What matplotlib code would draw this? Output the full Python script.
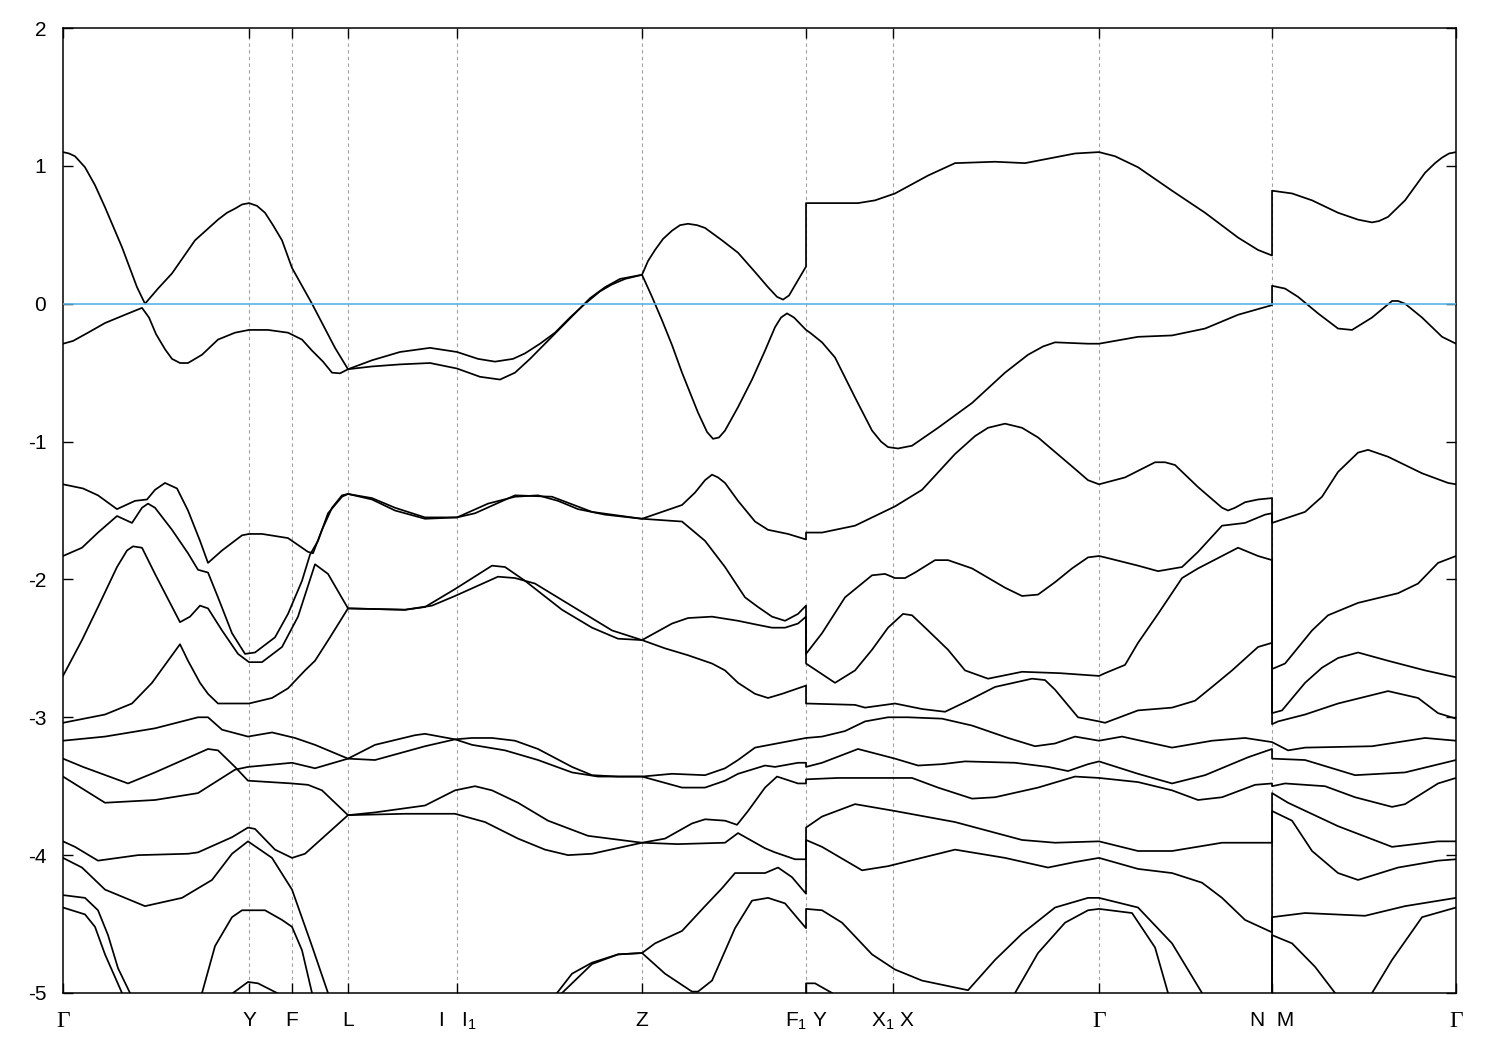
import numpy as np
import matplotlib
matplotlib.use("Agg")
import matplotlib.pyplot as plt

plt.rcParams['font.family'] = ['Liberation Sans', 'DejaVu Sans']
plt.rcParams['mathtext.fontset'] = 'custom'
plt.rcParams['mathtext.rm'] = 'Liberation Sans'
plt.rcParams['mathtext.default'] = 'regular'
plt.rcParams['axes.unicode_minus'] = False

# high symmetry points along the k-path
kpts = [0.0, 1.86, 2.29, 2.85, 3.94, 5.79, 7.43, 8.30, 10.36, 12.09, 13.93]
klabels = ['Γ', 'Y', 'F', 'L', 'I   I$_1$', 'Z', 'F$_1$ Y', 'X$_1$ X', 'Γ', 'N  M', 'Γ']

# bands, (k, E); a repeated k is a jump at F1|Y or N|M
band01 = [(0.00, 1.10), (0.06, 1.09), (0.12, 1.07), (0.22, 0.99), (0.32, 0.86), (0.42, 0.70), (0.59, 0.41),
          (0.74, 0.12), (0.82, 0.00),
          (0.95, 0.11), (1.09, 0.22), (1.32, 0.46), (1.55, 0.61), (1.64, 0.66), (1.72, 0.69), (1.79, 0.72),
          (1.86, 0.73), (1.94, 0.71), (2.02, 0.66), (2.10, 0.57), (2.19, 0.46), (2.29, 0.26), (2.49, 0.00),
          (2.72, -0.32), (2.85, -0.475),
          (3.09, -0.41), (3.37, -0.35), (3.67, -0.32), (3.94, -0.35), (4.15, -0.40), (4.32, -0.42), (4.50, -0.40),
          (4.62, -0.36), (4.77, -0.29), (4.92, -0.21), (5.07, -0.10), (5.22, 0.00), (5.37, 0.09), (5.49, 0.14),
          (5.62, 0.18), (5.79, 0.21),
          (5.85, 0.31), (5.92, 0.39), (6.00, 0.47), (6.09, 0.53), (6.17, 0.57), (6.25, 0.58), (6.34, 0.57),
          (6.42, 0.55), (6.59, 0.46), (6.75, 0.37), (6.92, 0.23), (7.05, 0.12), (7.14, 0.05), (7.20, 0.03),
          (7.26, 0.06), (7.43, 0.27),
          (7.43, 0.73), (7.95, 0.73), (8.12, 0.75), (8.32, 0.80), (8.65, 0.93), (8.92, 1.02), (9.32, 1.03),
          (9.62, 1.02), (10.12, 1.09), (10.36, 1.10), (10.52, 1.07), (10.75, 0.99), (11.09, 0.82), (11.42, 0.66),
          (11.75, 0.48), (11.95, 0.39), (12.09, 0.35),
          (12.09, 0.82), (12.29, 0.80), (12.49, 0.75), (12.75, 0.66), (12.95, 0.61), (13.02, 0.60), (13.09, 0.59),
          (13.16, 0.60), (13.25, 0.63), (13.42, 0.75), (13.62, 0.95), (13.72, 1.02), (13.79, 1.06), (13.86, 1.09),
          (13.93, 1.10)]

band02 = [(0.00, -0.29), (0.10, -0.27), (0.25, -0.21), (0.42, -0.14), (0.62, -0.08), (0.79, -0.03), (0.86, -0.10),
          (0.93, -0.22), (1.02, -0.33), (1.09, -0.40), (1.17, -0.43), (1.25, -0.43), (1.39, -0.37), (1.55, -0.26),
          (1.72, -0.21), (1.86, -0.19), (2.05, -0.19), (2.25, -0.21), (2.39, -0.26), (2.49, -0.34), (2.60, -0.42),
          (2.69, -0.50), (2.77, -0.505), (2.85, -0.475),
          (3.09, -0.455), (3.37, -0.44), (3.67, -0.43), (3.94, -0.47), (4.17, -0.53), (4.37, -0.55), (4.52, -0.50),
          (4.67, -0.40), (4.82, -0.29), (4.97, -0.18), (5.12, -0.07), (5.27, 0.04), (5.42, 0.12), (5.57, 0.18),
          (5.79, 0.21),
          (5.89, 0.05), (5.99, -0.12), (6.09, -0.30), (6.19, -0.50), (6.35, -0.79), (6.44, -0.93), (6.50, -0.98),
          (6.56, -0.97), (6.62, -0.92), (6.75, -0.75), (6.89, -0.55), (7.02, -0.34), (7.12, -0.17), (7.18, -0.10),
          (7.24, -0.07), (7.31, -0.10), (7.43, -0.19), (7.47, -0.21),
          (7.59, -0.28), (7.72, -0.39), (7.92, -0.68), (8.09, -0.92), (8.18, -1.00), (8.25, -1.04), (8.35, -1.05),
          (8.49, -1.03), (8.75, -0.90), (9.09, -0.72), (9.42, -0.50), (9.65, -0.37), (9.80, -0.31), (9.92, -0.28),
          (10.25, -0.29), (10.36, -0.29),
          (10.75, -0.24), (11.09, -0.23), (11.42, -0.18), (11.75, -0.08), (12.09, -0.01),
          (12.09, 0.13), (12.22, 0.11), (12.35, 0.05), (12.55, -0.07), (12.75, -0.18), (12.89, -0.19),
          (13.09, -0.10), (13.29, 0.02), (13.35, 0.02), (13.42, 0.00), (13.59, -0.10), (13.79, -0.24),
          (13.93, -0.29)]

band03 = [(0.00, -1.31), (0.20, -1.34), (0.35, -1.39), (0.54, -1.49), (0.72, -1.43), (0.84, -1.42), (0.92, -1.35),
          (1.02, -1.30), (1.14, -1.34), (1.25, -1.50), (1.37, -1.72), (1.45, -1.88), (1.59, -1.79), (1.79, -1.68),
          (1.86, -1.67), (1.99, -1.67), (2.25, -1.70), (2.37, -1.76), (2.45, -1.80), (2.50, -1.81), (2.59, -1.64),
          (2.69, -1.48), (2.79, -1.39), (2.85, -1.38),
          (3.09, -1.41), (3.32, -1.48), (3.62, -1.55), (3.94, -1.55), (4.25, -1.45), (4.52, -1.40), (4.75, -1.39),
          (4.95, -1.43), (5.15, -1.49), (5.42, -1.53), (5.79, -1.56),
          (6.19, -1.46), (6.32, -1.37), (6.42, -1.28), (6.49, -1.24), (6.55, -1.26), (6.62, -1.30), (6.75, -1.43),
          (6.92, -1.58), (7.05, -1.64), (7.25, -1.67), (7.43, -1.71),
          (7.43, -1.66), (7.59, -1.66), (7.92, -1.61), (8.32, -1.47), (8.59, -1.35), (8.92, -1.09), (9.12, -0.96),
          (9.25, -0.90), (9.42, -0.87), (9.59, -0.90), (9.75, -0.97), (10.09, -1.18), (10.25, -1.28),
          (10.36, -1.31), (10.62, -1.26), (10.92, -1.15), (11.02, -1.15), (11.12, -1.17), (11.35, -1.33),
          (11.59, -1.48), (11.65, -1.50), (11.72, -1.48), (11.82, -1.44), (11.95, -1.42), (12.09, -1.41),
          (12.09, -1.59), (12.42, -1.51), (12.59, -1.40), (12.75, -1.22), (12.95, -1.08), (13.05, -1.06),
          (13.25, -1.11), (13.59, -1.23), (13.85, -1.30), (13.93, -1.31)]

band04 = [(0.00, -1.83), (0.19, -1.77), (0.35, -1.66), (0.54, -1.54), (0.69, -1.59), (0.79, -1.48), (0.85, -1.45),
          (0.92, -1.48), (1.09, -1.64), (1.25, -1.81), (1.35, -1.93), (1.45, -1.95), (1.55, -2.13), (1.69, -2.39),
          (1.82, -2.54), (1.92, -2.53), (2.12, -2.42), (2.25, -2.25), (2.39, -2.01), (2.47, -1.82), (2.55, -1.72),
          (2.65, -1.52), (2.79, -1.40), (2.85, -1.38),
          (3.09, -1.42), (3.32, -1.50), (3.62, -1.56), (3.94, -1.55), (4.12, -1.52), (4.52, -1.39), (4.89, -1.40),
          (5.29, -1.51), (5.79, -1.56),
          (6.19, -1.58), (6.42, -1.72), (6.62, -1.91), (6.82, -2.13), (6.95, -2.20), (7.09, -2.27), (7.22, -2.30),
          (7.35, -2.25), (7.43, -2.19),
          (7.43, -2.54), (7.59, -2.39), (7.82, -2.13), (8.09, -1.97), (8.22, -1.96), (8.32, -1.99), (8.42, -1.99),
          (8.52, -1.95), (8.72, -1.86), (8.85, -1.86), (9.09, -1.92), (9.42, -2.06), (9.59, -2.12), (9.75, -2.11),
          (9.92, -2.02), (10.09, -1.92), (10.25, -1.84), (10.36, -1.83), (10.42, -1.84), (10.75, -1.90),
          (10.95, -1.94), (11.19, -1.91), (11.35, -1.80), (11.59, -1.61), (11.82, -1.59), (12.02, -1.53),
          (12.09, -1.52),
          (12.09, -2.65), (12.22, -2.61), (12.49, -2.37), (12.65, -2.26), (12.95, -2.17), (13.35, -2.10),
          (13.55, -2.03), (13.75, -1.88), (13.93, -1.83)]

band05 = [(0.00, -2.70), (0.19, -2.44), (0.35, -2.20), (0.54, -1.91), (0.64, -1.79), (0.70, -1.76), (0.79, -1.77),
          (0.92, -1.96), (1.17, -2.31), (1.27, -2.27), (1.37, -2.19), (1.45, -2.21), (1.59, -2.37), (1.75, -2.54),
          (1.86, -2.60), (1.99, -2.60), (2.19, -2.49), (2.35, -2.27), (2.52, -1.89), (2.65, -1.96), (2.85, -2.21),
          (3.42, -2.22), (3.62, -2.20), (3.92, -2.07), (4.29, -1.90), (4.42, -1.91), (4.62, -2.01), (4.99, -2.22),
          (5.29, -2.35), (5.55, -2.43), (5.79, -2.44),
          (6.09, -2.32), (6.25, -2.28), (6.49, -2.27), (6.75, -2.30), (6.95, -2.33), (7.09, -2.35), (7.22, -2.35),
          (7.35, -2.32), (7.43, -2.27),
          (7.43, -2.61), (7.72, -2.75), (7.92, -2.66), (8.09, -2.51), (8.25, -2.35), (8.40, -2.25), (8.49, -2.26),
          (8.65, -2.37), (8.85, -2.51), (9.02, -2.66), (9.25, -2.72), (9.59, -2.67), (9.97, -2.68), (10.36, -2.70),
          (10.42, -2.68), (10.62, -2.62), (10.75, -2.46), (10.95, -2.25), (11.19, -1.99), (11.35, -1.92),
          (11.59, -1.83), (11.75, -1.77), (11.95, -1.83), (12.09, -1.86),
          (12.09, -2.97), (12.19, -2.95), (12.42, -2.75), (12.59, -2.64), (12.75, -2.57), (12.95, -2.53),
          (13.25, -2.59), (13.62, -2.66), (13.93, -2.71)]

band06 = [(0.00, -3.04), (0.42, -2.98), (0.69, -2.90), (0.89, -2.75), (1.05, -2.59), (1.17, -2.47), (1.25, -2.59),
          (1.37, -2.75), (1.45, -2.83), (1.55, -2.90), (1.86, -2.90), (2.09, -2.86), (2.25, -2.79), (2.42, -2.66),
          (2.52, -2.59), (2.67, -2.42), (2.85, -2.21),
          (3.42, -2.22), (3.69, -2.19), (3.92, -2.12), (4.35, -1.98), (4.52, -1.99), (4.72, -2.03), (5.15, -2.22),
          (5.49, -2.37), (5.79, -2.44),
          (6.02, -2.50), (6.25, -2.55), (6.49, -2.61), (6.62, -2.66), (6.75, -2.75), (6.92, -2.83), (7.05, -2.86),
          (7.19, -2.83), (7.43, -2.77),
          (7.43, -2.90), (7.92, -2.91), (8.02, -2.93), (8.32, -2.90), (8.59, -2.94), (8.82, -2.96), (9.05, -2.88),
          (9.32, -2.78), (9.69, -2.72), (9.82, -2.73), (9.92, -2.80), (10.15, -3.00), (10.36, -3.03),
          (10.42, -3.04), (10.75, -2.95), (11.09, -2.93), (11.32, -2.88), (11.49, -2.78), (11.69, -2.66),
          (11.95, -2.49), (12.09, -2.46),
          (12.09, -3.05), (12.15, -3.03), (12.42, -2.98), (12.75, -2.90), (13.25, -2.81), (13.55, -2.86),
          (13.75, -2.97), (13.93, -3.01)]

band07 = [(0.00, -3.17), (0.42, -3.14), (0.92, -3.08), (1.35, -3.00), (1.45, -3.00), (1.59, -3.09), (1.85, -3.14),
          (2.09, -3.11), (2.32, -3.15), (2.52, -3.20), (2.85, -3.30), (3.12, -3.20), (3.52, -3.13), (3.62, -3.12),
          (3.92, -3.16), (4.09, -3.20), (4.42, -3.24), (4.75, -3.31), (5.09, -3.40), (5.35, -3.43), (5.79, -3.43),
          (6.09, -3.41), (6.42, -3.42), (6.62, -3.37), (6.75, -3.31), (6.92, -3.22), (7.43, -3.15), (7.59, -3.14),
          (7.82, -3.10), (8.02, -3.03), (8.25, -3.00), (8.45, -3.00), (8.79, -3.01), (9.09, -3.06), (9.45, -3.15),
          (9.72, -3.21), (9.92, -3.19), (10.12, -3.14), (10.36, -3.17), (10.59, -3.14), (11.09, -3.22),
          (11.49, -3.17), (11.82, -3.15), (12.09, -3.18), (12.25, -3.24), (12.42, -3.22), (13.09, -3.21),
          (13.62, -3.15), (13.93, -3.17)]

band08 = [(0.00, -3.30), (0.20, -3.36), (0.65, -3.48), (0.92, -3.40), (1.45, -3.23), (1.55, -3.24), (1.72, -3.36),
          (1.85, -3.46), (2.29, -3.48), (2.45, -3.49), (2.59, -3.53), (2.85, -3.71),
          (3.42, -3.70), (3.92, -3.70), (4.22, -3.76), (4.55, -3.88), (4.82, -3.96), (5.05, -4.00), (5.29, -3.99),
          (5.79, -3.91), (6.15, -3.92), (6.62, -3.91), (6.75, -3.84), (7.02, -3.95), (7.12, -3.98), (7.32, -4.03),
          (7.43, -4.03),
          (7.43, -3.80), (7.59, -3.72), (7.92, -3.63), (8.32, -3.68), (8.92, -3.76), (9.59, -3.89), (9.92, -3.91),
          (10.36, -3.90), (10.75, -3.97), (11.09, -3.97), (11.59, -3.91), (12.09, -3.91),
          (12.09, -3.55), (12.25, -3.62), (12.75, -3.79), (13.29, -3.94), (13.75, -3.90), (13.93, -3.90)]

band09 = [(0.00, -3.43), (0.42, -3.62), (0.92, -3.60), (1.35, -3.55), (1.72, -3.38), (1.85, -3.36), (2.29, -3.33),
          (2.52, -3.37), (2.85, -3.30), (3.12, -3.31), (3.52, -3.23), (3.62, -3.21), (3.92, -3.16), (4.09, -3.15),
          (4.29, -3.15), (4.52, -3.17), (4.75, -3.23), (5.09, -3.36), (5.29, -3.42), (5.55, -3.43), (5.79, -3.43),
          (6.19, -3.51), (6.42, -3.51), (6.62, -3.46), (6.75, -3.41), (7.02, -3.35), (7.12, -3.36), (7.35, -3.33),
          (7.43, -3.33),
          (7.43, -3.36), (7.59, -3.33), (7.95, -3.23), (8.32, -3.30), (8.55, -3.35), (8.79, -3.34), (9.02, -3.32),
          (9.52, -3.33), (9.85, -3.36), (10.05, -3.39), (10.25, -3.34), (10.36, -3.32), (10.75, -3.41),
          (11.09, -3.48), (11.42, -3.42), (11.85, -3.29), (12.09, -3.23),
          (12.09, -3.30), (12.42, -3.31), (12.92, -3.42), (13.42, -3.40), (13.93, -3.31)]

band10 = [(0.00, -3.90), (0.12, -3.94), (0.35, -4.04), (0.75, -4.00), (1.25, -3.99), (1.35, -3.98), (1.69, -3.87),
          (1.85, -3.80), (1.92, -3.81), (2.12, -3.96), (2.29, -4.02), (2.42, -3.99), (2.85, -3.71),
          (3.12, -3.69), (3.42, -3.66), (3.62, -3.64), (3.92, -3.53), (4.12, -3.50), (4.29, -3.53), (4.55, -3.62),
          (4.85, -3.75), (5.25, -3.86), (5.79, -3.91), (6.02, -3.88), (6.29, -3.77), (6.42, -3.74), (6.62, -3.75),
          (6.74, -3.78), (6.85, -3.68), (7.02, -3.51), (7.14, -3.43), (7.35, -3.48), (7.43, -3.48),
          (7.43, -3.45), (7.75, -3.44), (8.49, -3.44), (8.75, -3.51), (9.09, -3.59), (9.32, -3.58), (9.75, -3.51),
          (10.12, -3.43), (10.36, -3.44), (10.75, -3.47), (11.09, -3.53), (11.35, -3.60), (11.59, -3.58),
          (11.92, -3.49), (12.09, -3.48),
          (12.09, -3.50), (12.22, -3.48), (12.62, -3.50), (12.92, -3.58), (13.29, -3.65), (13.42, -3.63),
          (13.75, -3.48), (13.93, -3.44)]

# lower bands that leave or enter through the bottom of the window
band11 = [(0.00, -4.02), (0.19, -4.09), (0.42, -4.25), (0.82, -4.37), (1.19, -4.31), (1.49, -4.18), (1.69, -3.99),
          (1.85, -3.90), (2.09, -4.02), (2.29, -4.25), (2.49, -4.66), (2.65, -5.00)]
band12 = [(0.00, -4.29), (0.22, -4.31), (0.35, -4.40), (0.45, -4.58), (0.55, -4.82), (0.67, -5.00)]
band13 = [(0.00, -4.38), (0.22, -4.43), (0.32, -4.52), (0.42, -4.72), (0.59, -5.00)]
band14 = [(1.39, -5.00), (1.52, -4.66), (1.69, -4.45), (1.79, -4.40), (2.02, -4.40), (2.19, -4.47), (2.29, -4.52),
          (2.39, -4.69), (2.49, -5.00)]
band15 = [(1.70, -5.00), (1.85, -4.92), (1.95, -4.93), (2.14, -5.00)]
band16 = [(4.94, -5.00), (5.09, -4.86), (5.29, -4.78), (5.55, -4.72), (5.79, -4.71), (5.92, -4.64), (6.19, -4.55),
          (6.42, -4.37), (6.59, -4.24), (6.72, -4.13), (6.89, -4.13), (7.02, -4.13), (7.15, -4.09), (7.29, -4.16),
          (7.43, -4.28),
          (7.43, -3.89), (7.59, -3.94), (7.99, -4.11), (8.25, -4.08), (8.92, -3.96), (9.42, -4.02), (9.85, -4.09),
          (10.12, -4.05), (10.36, -4.02), (10.75, -4.10), (11.09, -4.13), (11.39, -4.20), (11.59, -4.31),
          (11.82, -4.47), (12.09, -4.56),
          (12.09, -3.68), (12.29, -3.75), (12.49, -3.97), (12.75, -4.13), (12.95, -4.18), (13.35, -4.09),
          (13.75, -4.04), (13.93, -4.03)]
band17 = [(4.99, -5.00), (5.29, -4.79), (5.55, -4.72), (5.79, -4.71), (6.02, -4.86), (6.29, -4.99), (6.35, -4.99),
          (6.49, -4.91), (6.72, -4.53), (6.89, -4.33), (7.05, -4.31), (7.22, -4.35), (7.43, -4.53),
          (7.43, -4.39), (7.59, -4.40), (7.79, -4.49), (8.09, -4.72), (8.32, -4.83), (8.59, -4.91), (9.05, -4.98),
          (9.32, -4.76), (9.59, -4.57), (9.92, -4.38), (10.25, -4.31), (10.36, -4.31), (10.75, -4.38),
          (11.09, -4.64), (11.39, -5.00)]
band18 = [(7.43, -5.00), (7.43, -4.93), (7.52, -4.93), (7.69, -5.00)]
band19 = [(9.52, -5.00), (9.75, -4.71), (10.02, -4.49), (10.25, -4.40), (10.36, -4.39), (10.69, -4.42),
          (10.92, -4.67), (11.05, -5.00)]
band20 = [(12.09, -5.00), (12.09, -4.45), (12.42, -4.42), (13.02, -4.44), (13.42, -4.37), (13.93, -4.31)]
band21 = [(12.09, -5.00), (12.09, -4.58), (12.29, -4.64), (12.52, -4.81), (12.72, -5.00)]
band22 = [(13.09, -5.00), (13.29, -4.76), (13.59, -4.45), (13.93, -4.38)]

bands = [band01, band02, band03, band04, band05, band06, band07, band08, band09, band10, band11,
         band12, band13, band14, band15, band16, band17, band18, band19, band20, band21, band22]

fig = plt.figure(figsize=(15, 10.5), dpi=100)
ax = fig.add_axes([0.042, 0.0543, 0.9287, 0.919])

for b in bands:
    b = np.array(b)
    ax.plot(b[:, 0], b[:, 1], color='black', lw=1.25, zorder=3, solid_joinstyle='round')

for k in kpts[1:-1]:
    ax.axvline(k, color='#a0a0a0', lw=0.8, ls=(0, (3, 3)), zorder=1)
ax.axhline(0, color='#56b4e9', lw=1.2, zorder=4)

ax.set_xlim(kpts[0], kpts[-1])
ax.set_ylim(-5, 2)
ax.set_xticks(kpts)
ax.set_xticklabels(klabels)
ax.set_yticks(range(-5, 3))
ax.tick_params(direction='in', top=True, right=True, length=7, width=1, labelsize=15)
ax.tick_params(axis='x', pad=13)
ax.tick_params(axis='y', pad=12)
for lab, txt in zip(ax.get_xticklabels(), klabels):
    if txt == 'Γ':
        lab.set_fontfamily(['Liberation Serif', 'DejaVu Serif'])
        lab.set_fontsize(17)
for s in ax.spines.values():
    s.set_linewidth(1.1)

fig.savefig('out.png', dpi=100)
